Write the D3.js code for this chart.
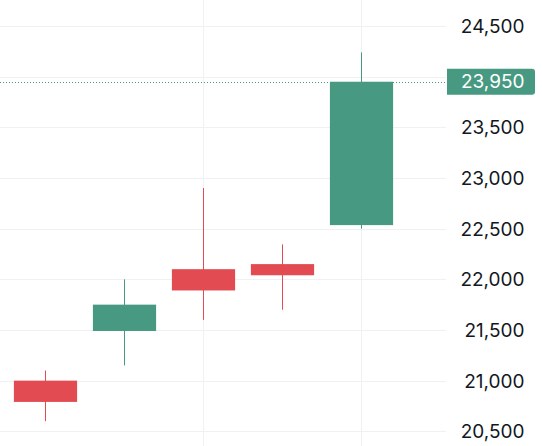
<!DOCTYPE html>
<html>
<head>
<meta charset="utf-8">
<script src="https://cdn.jsdelivr.net/npm/d3@7"></script>
<style>
  html, body { margin: 0; padding: 0; background: #ffffff; }
  svg { display: block; }
  text { font-family: Inter, "Noto Sans", Roboto, sans-serif; }
</style>
</head>
<body>
<svg id="chart" width="542" height="446"></svg>
<script>
const categories = ["C1", "C2", "C3", "C4", "C5"];
const openValues  = [21000, 21490, 22100, 22150, 22535];
const closeValues = [20790, 21750, 21890, 22040, 23950];
const highValues  = [21100, 22000, 22900, 22345, 24240];
const lowValues   = [20600, 21150, 21600, 21700, 22500];
const priceTicks = [20500, 21000, 21500, 22000, 22500, 23000, 23500, 24000, 24500];
const priceTickLabels = [20500, 21000, 21500, 22000, 22500, 23000, 23500, 24500];
const timeGridCategories = ["C3", "C5"];
const lastPrice = 23950;

const W = 542, H = 446;
const plotRight = 446;
const up = "#479a81", down = "#e24b51";

const svg = d3.select("#chart");

const x = d3.scaleBand().domain(categories).range([6, 401])
  .paddingInner(0.2).paddingOuter(0.1).align(0.5);
const y = d3.scaleLinear().domain([20500, 24500]).range([431.3, 26]);

// horizontal grid
const gGrid = svg.append("g");
gGrid.selectAll("line.h").data(priceTicks).join("line")
  .attr("x1", 0).attr("x2", plotRight)
  .attr("y1", d => Math.round(y(d)) + 0.5).attr("y2", d => Math.round(y(d)) + 0.5)
  .attr("stroke", "#f0f1f2").attr("stroke-width", 1);
// vertical grid
gGrid.selectAll("line.v").data(timeGridCategories).join("line")
  .attr("x1", d => Math.round(x(d) + x.bandwidth() / 2) - 0.5)
  .attr("x2", d => Math.round(x(d) + x.bandwidth() / 2) - 0.5)
  .attr("y1", 0).attr("y2", H)
  .attr("stroke", "#f0f1f2").attr("stroke-width", 1);

// axis (the 24,000 label sits under the last-price label, so it is not drawn)
const axis = d3.axisRight(y).tickValues(priceTickLabels)
  .tickFormat(d3.format(",")).tickSize(0).tickPadding(0);
const gAxis = svg.append("g").attr("transform", `translate(524.5,0)`).call(axis);
gAxis.select(".domain").remove();
gAxis.selectAll("text")
  .attr("text-anchor", "end")
  .attr("x", 0)
  .attr("dy", "0.35em")
  .attr("fill", "#131722")
  .style("font-size", "19px")
  .style("font-family", "Inter, 'Noto Sans', Roboto, sans-serif");

// candles
const data = categories.map((c, i) => ({
  c, o: openValues[i], cl: closeValues[i], h: highValues[i], l: lowValues[i]
}));
const gC = svg.append("g");
gC.selectAll("line.wick").data(data).join("line")
  .attr("x1", d => Math.round(x(d.c) + x.bandwidth() / 2) - 0.5)
  .attr("x2", d => Math.round(x(d.c) + x.bandwidth() / 2) - 0.5)
  .attr("y1", d => y(d.h)).attr("y2", d => y(d.l))
  .attr("stroke", d => d.cl >= d.o ? up : down).attr("stroke-width", 1);
gC.selectAll("rect.body").data(data).join("rect")
  .attr("x", d => x(d.c))
  .attr("width", x.bandwidth())
  .attr("y", d => y(Math.max(d.o, d.cl)))
  .attr("height", d => Math.abs(y(d.o) - y(d.cl)))
  .attr("fill", d => d.cl >= d.o ? up : down);

// last price line
svg.append("line")
  .attr("x1", 0).attr("x2", 446)
  .attr("y1", Math.round(y(lastPrice)) + 0.5).attr("y2", Math.round(y(lastPrice)) + 0.5)
  .attr("stroke", up).attr("stroke-width", 1).attr("stroke-dasharray", "1,2");

// last price label
const ly = y(lastPrice);
svg.append("path")
  .attr("d", `M447,${ly - 13} H532 Q535,${ly - 13} 535,${ly - 10} V${ly + 10} Q535,${ly + 13} 532,${ly + 13} H447 Z`)
  .attr("fill", up);
svg.append("text")
  .attr("x", 524.5).attr("y", ly).attr("dy", "0.35em")
  .attr("text-anchor", "end").attr("fill", "#ffffff")
  .style("font-size", "19px")
  .text(d3.format(",")(lastPrice));
</script>
</body>
</html>
